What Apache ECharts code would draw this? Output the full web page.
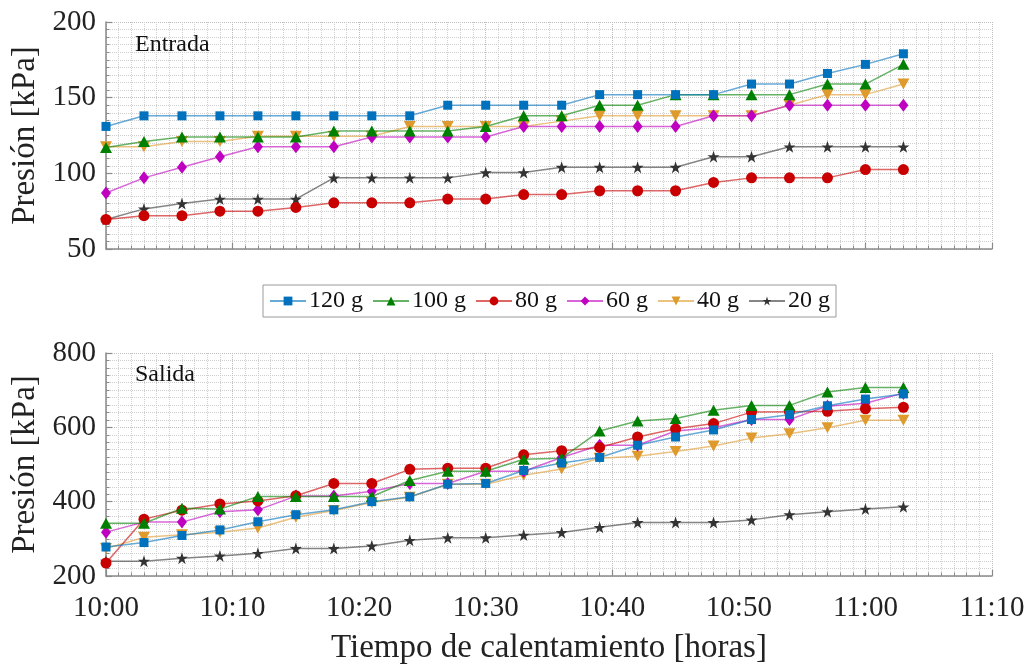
<!DOCTYPE html>
<html>
<head>
<meta charset="utf-8">
<script src="https://cdn.jsdelivr.net/npm/echarts@6/dist/echarts.min.js"></script>
<style>
html,body{margin:0;padding:0;background:#fff;}
#chart{width:1036px;height:666px;}
</style>
</head>
<body>
<div id="chart"></div>
<script>
// ---- Data ----
const times = ['10:00','10:03','10:06','10:09','10:12','10:15','10:18','10:21','10:24','10:27','10:30',
               '10:33','10:36','10:39','10:42','10:45','10:48','10:51','10:54','10:57','11:00','11:03'];
const xTickLabels = ['10:00','10:10','10:20','10:30','10:40','10:50','11:00','11:10'];
const seriesNames = ['120 g','100 g','80 g','60 g','40 g','20 g'];

// Entrada (inlet pressure, kPa)
const in120 = [131,138,138,138,138,138,138,138,138,145,145,145,145,152,152,152,152,159,159,166,172,179];
const in100 = [117,121,124,124,124,124,128,128,128,128,131,138,138,145,145,152,152,152,152,159,159,172];
const in80  = [69.5,72,72,75,75,77.5,80.5,80.5,80.5,83,83,86,86,88.5,88.5,88.5,94,97,97,97,102.5,102.5];
const in60  = [87,97,104,111,117.5,117.5,117.5,124,124,124,124,131,131,131,131,131,138,138,145,145,145,145];
const in40  = [117.5,117.5,121,121,124.5,124.5,124.5,124.5,131,131,131,131,134.5,138,138,138,138,138,145,152,152,159];
const in20  = [69.5,76.5,80,83,83,83,97,97,97,97,100.5,100.5,104,104,104,104,111,111,117.5,117.5,117.5,117.5];

// Salida (outlet pressure, kPa)
const out120 = [278,290,309,324,346,365,378,400,413,447,449,484,504,519,552,574,593,621,634,658,676,690];
const out100 = [342,342,382,380,414,414,414,414,457,482,482,514,517,590,617,624,646,659,659,695,707,707];
const out80  = [235,353,377,394,402,416,449,449,487,490,490,526,537,546,574,596,610,641,642,643,650,654];
const out60  = [318,345,345,373,378,415,415,428,449,449,482,482,519,552,552,590,599,621,621,657,665,692];
const out40  = [274,304,311,318,329,358,376,398,412,447,447,471,488,517,522,535,550,571,583,599,619,619];
const out20  = [240,240,248,254,261,274,274,281,296,303,303,310,317,331,344,344,344,351,365,373,380,386];

// ---- Build ----
const T0 = 600; // 10:00 in minutes
const toMin = s => { const p = s.split(':'); return (+p[0])*60 + (+p[1]) - T0; };
const xs = times.map(toMin);
const pair = arr => arr.map((v,i)=>[xs[i], v]);

const FONT = 'Liberation Serif';
const colors = ['#0072BD','#008000','#C80000','#C000C0','#DE9A2C','#333333'];
const STAR = 'path://M50,0 L61.8,35.4 L99,35.4 L68.9,57.3 L80.3,92.7 L50,70.8 L19.7,92.7 L31.1,57.3 L1,35.4 L38.2,35.4 Z';
const symbols = [
  {symbol:'rect', size:9, rot:0},
  {symbol:'triangle', size:[12,11], rot:0},
  {symbol:'circle', size:11, rot:0},
  {symbol:'diamond', size:[10,13], rot:0},
  {symbol:'triangle', size:[12,11], rot:180},
  {symbol:STAR, size:12, rot:0}
];
const inData = [in120,in100,in80,in60,in40,in20];
const outData = [out120,out100,out80,out60,out40,out20];

function mkSeries(dataArr, gi){
  return dataArr.map((d,k)=>({
    name: seriesNames[k], type:'line',
    xAxisIndex: gi, yAxisIndex: gi,
    data: pair(d),
    symbol: symbols[k].symbol, symbolSize: symbols[k].size, symbolRotate: symbols[k].rot,
    showAllSymbol: true,
    itemStyle:{color: colors[k], opacity:1},
    lineStyle:{color: colors[k], width:1.5, opacity:0.6},
    emphasis:{disabled:true},
    animation:false,
    z: 10 - k
  }));
}

function xAxis(gi, showLabels){
  return {
    type:'value', gridIndex: gi, min:0, max:70, interval:10,
    axisLine:{show:true, onZero:false, lineStyle:{color:'#8a8a8a', width:1.5}},
    axisTick:{show:true, inside:true, length:6, lineStyle:{color:'#8a8a8a', width:1.2}},
    minorTick:{show:true, splitNumber:10, length:3.5, lineStyle:{color:'#8a8a8a', width:1}},
    splitLine:{show:true, lineStyle:{color:'#bdbdbd', type:'dotted', width:1}},
    minorSplitLine:{show:true, lineStyle:{color:'#cfcfcf', type:'dotted', width:1}},
    axisLabel:{show: showLabels, margin:18, fontFamily:FONT, fontSize:29, color:'#222',
      formatter: v => xTickLabels[Math.round(v/10)]},
    name: showLabels ? 'Tiempo de calentamiento [horas]' : '',
    nameLocation:'middle', nameGap:56,
    nameTextStyle:{fontFamily:FONT, fontSize:33, color:'#222'}
  };
}
function yAxis(gi, min, max, interval){
  return {
    type:'value', gridIndex: gi, min, max, interval,
    axisLine:{show:true, lineStyle:{color:'#8a8a8a', width:1.5}},
    axisTick:{show:true, inside:true, length:6, lineStyle:{color:'#8a8a8a', width:1.2}},
    minorTick:{show:true, splitNumber:10, length:3.5, lineStyle:{color:'#8a8a8a', width:1}},
    splitLine:{show:true, lineStyle:{color:'#bdbdbd', type:'dotted', width:1}},
    minorSplitLine:{show:true, lineStyle:{color:'#cfcfcf', type:'dotted', width:1}},
    axisLabel:{margin:10, fontFamily:FONT, fontSize:29, color:'#222'},
    name:'Presión [kPa]', nameLocation:'middle', nameGap:60,
    nameTextStyle:{fontFamily:FONT, fontSize:33, color:'#222'}
  };
}

const option = {
  animation:false,
  backgroundColor:'#fff',
  grid:[
    {left:106, right:44, top:22, height:227, containLabel:false},
    {left:106, right:44, top:353, height:226, containLabel:false}
  ],
  xAxis:[xAxis(0,false), xAxis(1,true)],
  yAxis:[yAxis(0,50,200,50), yAxis(1,200,800,200)],
  legend:{
    data: seriesNames, left:263, top:285,
    orient:'horizontal', itemWidth:36, itemHeight:11, itemGap:9,
    padding:[4,6,4,6], borderColor:'#9a9a9a', borderWidth:1,
    textStyle:{fontFamily:FONT, fontSize:24, color:'#111', padding:[0,0,0,-2]},
    selectedMode:false
  },
  title:[
    {text:'Entrada', left:130, top:28, textStyle:{fontFamily:FONT, fontSize:24, fontWeight:'normal', color:'#111'}},
    {text:'Salida', left:130, top:358, textStyle:{fontFamily:FONT, fontSize:24, fontWeight:'normal', color:'#111'}}
  ],
  series: mkSeries(inData,0).concat(mkSeries(outData,1))
};

const chart = echarts.init(document.getElementById('chart'), null, {renderer:'canvas'});
chart.setOption(option);
</script>
</body>
</html>
